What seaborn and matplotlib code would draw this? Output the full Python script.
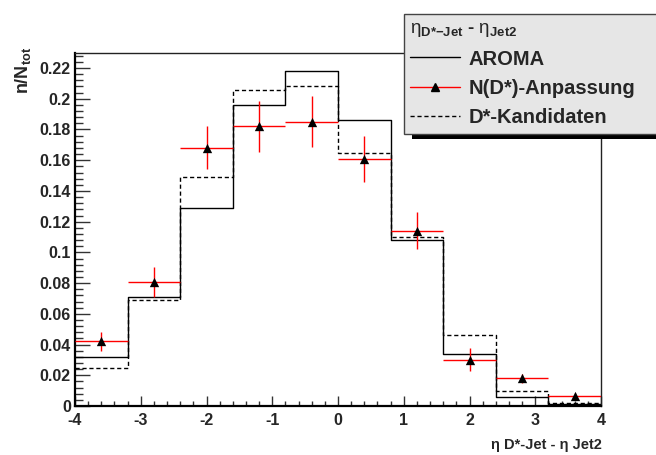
import numpy as np
import matplotlib
matplotlib.use("Agg")
import matplotlib.pyplot as plt
import seaborn as sns
from matplotlib.lines import Line2D
from matplotlib.patches import Rectangle
from matplotlib.ticker import MultipleLocator, FuncFormatter

# ---- data ----
bin_edges = [-4.0, -3.2, -2.4, -1.6, -0.8, 0.0, 0.8, 1.6, 2.4, 3.2, 4.0]
aroma = [0.032, 0.071, 0.129, 0.196, 0.218, 0.186, 0.108, 0.034, 0.006, 0.001]
kandidaten = [0.025, 0.069, 0.149, 0.206, 0.208, 0.165, 0.110, 0.046, 0.010, 0.002]
fit_values = [0.042, 0.081, 0.168, 0.182, 0.185, 0.161, 0.114, 0.030, 0.018, 0.0065]
fit_errors = [0.0063, 0.0098, 0.014, 0.0165, 0.0165, 0.015, 0.012, 0.0075, 0.003, 0.002]
legend_labels = ["AROMA", "N(D*)-Anpassung", "D*-Kandidaten"]

edges = np.array(bin_edges)
centers = (edges[:-1] + edges[1:]) / 2
half_w = (edges[1:] - edges[:-1]) / 2

sns.set_style("white")
plt.rcParams["font.family"] = ["Liberation Sans", "DejaVu Sans"]
plt.rcParams["mathtext.fontset"] = "custom"
plt.rcParams["mathtext.rm"] = "Liberation Sans"
plt.rcParams["mathtext.bf"] = "Liberation Sans:bold"
plt.rcParams["mathtext.it"] = "Liberation Sans:italic"
plt.rcParams["mathtext.default"] = "rm"

W, H = 656, 455
fig = plt.figure(figsize=(W / 100, H / 100), dpi=100)
fig.patch.set_facecolor("white")
ax = fig.add_axes([75 / W, 1 - 406 / H, (601 - 75) / W, (406 - 53) / H])
ax.set_facecolor("white")

sns.histplot(x=centers, weights=aroma, bins=bin_edges, element="step", fill=False,
             color="black", linewidth=1.0, ax=ax)
sns.histplot(x=centers, weights=kandidaten, bins=bin_edges, element="step", fill=False,
             color="black", linewidth=1.0, linestyle=(0, (3, 2)), ax=ax)
ax.errorbar(centers, fit_values, xerr=half_w, yerr=fit_errors, fmt="none",
            ecolor="red", elinewidth=1.0, capsize=0, zorder=3)
sns.scatterplot(x=centers, y=fit_values, marker="^", color="black", s=45,
                edgecolor="black", linewidth=0, zorder=4, ax=ax, legend=False)

ax.set_xlim(-4, 4)
ax.set_ylim(0, 0.2298)
ax.set_xlabel("")
ax.set_ylabel("")

# ticks (ROOT style)
ax.xaxis.set_major_locator(MultipleLocator(1))
ax.xaxis.set_minor_locator(MultipleLocator(0.2))
ax.yaxis.set_major_locator(MultipleLocator(0.02))
ax.yaxis.set_minor_locator(MultipleLocator(0.004))
ax.yaxis.set_major_formatter(FuncFormatter(lambda v, p: f"{round(v, 4):g}"))
ax.xaxis.set_major_formatter(FuncFormatter(lambda v, p: f"{round(v, 4):g}"))
ax.tick_params(axis="y", which="major", direction="in", length=11, width=1,
               color="#333333", pad=3, labelsize=11.5, left=True, right=False)
ax.tick_params(axis="y", which="minor", direction="in", length=5.5, width=1,
               color="#333333", left=True, right=False)
ax.tick_params(axis="x", which="major", direction="in", length=7, width=1,
               color="#333333", pad=5, labelsize=11.5, bottom=True, top=False)
ax.tick_params(axis="x", which="minor", direction="in", length=3.5, width=1,
               color="#333333", bottom=True, top=False)
for lab in ax.get_xticklabels() + ax.get_yticklabels():
    lab.set_fontweight("bold")

for side in ["left", "bottom"]:
    ax.spines[side].set_linewidth(1.6)
    ax.spines[side].set_color("black")
for side in ["top", "right"]:
    ax.spines[side].set_linewidth(1.0)
    ax.spines[side].set_color("#222222")

# axis titles
fig.text(33 / W, 1 - 47 / H, r"$\mathbf{n/N_{tot}}$", rotation=90,
         ha="right", va="top", fontsize=13)
fig.text(602 / W, 1 - 452 / H, "η D*-Jet - η Jet2", ha="right", va="bottom",
         fontsize=10.5, fontweight="bold")

# legend
h_aroma = Line2D([], [], color="black", lw=1.0)
h_fit = Line2D([], [], color="red", lw=1.0, marker="^", markerfacecolor="black",
               markeredgecolor="black", markersize=6)
h_kand = Line2D([], [], color="black", lw=1.0, linestyle=(0, (3, 2)))
leg = ax.legend([h_aroma, h_fit, h_kand], legend_labels,
                title=r"$\eta_{\mathbf{D{*}{-}Jet}}$ - $\eta_{\mathbf{Jet2}}$",
                loc="upper left",
                bbox_to_anchor=(404 / W, 1 - 14 / H, 0.6, 0),
                bbox_transform=fig.transFigure, mode="expand",
                frameon=True, fancybox=False, framealpha=1,
                prop=dict(family="Liberation Sans", weight="bold", size=14.5),
                title_fontproperties=dict(family="Liberation Sans", weight="bold", size=13.5),
                handlelength=2.5, handletextpad=0.4, labelspacing=0.52,
                borderpad=0.3, alignment="left", borderaxespad=0)
leg.get_frame().set_facecolor("#e6e6e6")
leg.get_frame().set_edgecolor("#444444")
leg.get_frame().set_linewidth(1.0)
leg.set_zorder(6)

# ROOT-like drop shadow under the legend box
fig.canvas.draw()
bb = leg.get_window_extent()
shadow = Rectangle((bb.x0 + 8, bb.y0 - 5), bb.width, bb.height,
                   transform=None, facecolor="black", edgecolor="none",
                   zorder=5.9, clip_on=False)
ax.add_artist(shadow)

fig.savefig("out.png", dpi=100, facecolor="white")
